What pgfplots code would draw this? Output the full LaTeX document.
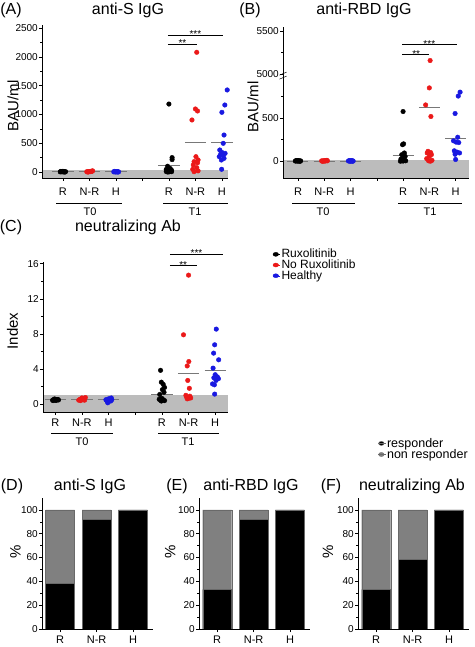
\documentclass[border=0pt]{standalone}
\usepackage{fontspec}
\setmainfont{Liberation Sans}
\usepackage{pgfplots}
\pgfplotsset{compat=1.18}

\definecolor{band}{RGB}{188,188,188}
\definecolor{medgray}{RGB}{120,120,120}
\definecolor{rred}{RGB}{235,25,25}
\definecolor{hblue}{RGB}{25,25,225}
\definecolor{nonresp}{RGB}{128,128,128}
\definecolor{baredge}{RGB}{105,105,105}

\tikzset{
 sig/.style={line width=0.6pt},
 signode/.style={font=\fontsize{10}{10}\selectfont, anchor=base, inner sep=0pt, yshift=-2.5pt},
}
\pgfplotsset{
 common/.style={
  scale only axis, anchor=south west,
  axis x line*=bottom, axis y line*=left,
  axis on top,
  tick align=outside,
  major tick length=3pt, minor tick length=1.6pt,
  every tick/.style={black, line width=0.5pt},
  axis line style={line width=0.6pt},
  minor y tick num=1,
  clip=false,
  /pgf/number format/assume math mode=true,
  /pgf/number format/1000 sep={},
  tick label style={font=\fontsize{10}{12}\selectfont},
  yticklabel style={inner sep=1pt},
  xticklabel style={font=\fontsize{11}{12}\selectfont},
  ylabel style={font=\fontsize{15}{18}\selectfont, anchor=center},
 },
 scat/.style={common,
  xtick={1,...,7}, xticklabels={R,N-R,H,,R,N-R,H},
 },
 dots/.style={only marks, mark=*, mark size=2.3pt, color=#1},
 med/.style={medgray, line width=0.8pt, no marks, forget plot},
 bars/.style={common,
  width=111pt, height=131pt,
  xmin=0.5, xmax=3.55, ymin=0, ymax=110,
  ytick={0,20,...,100},
  xtick={1,2,3}, xticklabels={R,N-R,H},
  ybar stacked, bar width=29pt,
  ylabel={\%},
 },
 dotlegend/.style={
  legend cell align=left,
  legend image code/.code={\fill[##1] (2.5pt,0pt) ellipse (2.8pt and 2pt); \path (-0.5pt,0pt) -- (7pt,0pt);}},
}

\begin{document}
\begin{tikzpicture}[x=1pt,y=1pt]
\useasboundingbox (0,0) rectangle (474,647);

% ================= Panel A =================
\begin{axis}[scat, at={(42pt,469pt)}, width=186pt, height=153pt,
  xmin=0.21, xmax=7.23, ymin=-104, ymax=2552,
  ytick={0,500,...,2500}, xticklabel style={yshift=-3pt},
  ylabel={BAU/ml}, ylabel style={at={(axis description cs:-0.156,0.47)}}]
\fill[band] (axis cs:0.21,-104) rectangle (axis cs:7.23,35);
\addplot[med] coordinates {(0.6,5) (1.4,5)};
\addplot[med] coordinates {(1.6,5) (2.4,5)};
\addplot[med] coordinates {(2.6,5) (3.4,5)};
\addplot[med] coordinates {(4.6,115) (5.4,115)};
\addplot[med] coordinates {(5.6,515) (6.4,515)};
\addplot[med] coordinates {(6.6,515) (7.4,515)};
\addplot[dots=black] coordinates {
 (0.9,2) (0.95,5) (1.0,8) (1.05,3) (1.1,6) (0.92,10) (1.08,0) (1.0,12) (0.97,4) (1.03,1)
 (5.0,1180) (5.12,250) (5.12,215) (4.95,100) (5.05,60) (4.9,45) (5.1,30) (4.95,20) (5.05,12) (4.9,8) (5.1,5) (5.0,2) (4.95,0)};
\addplot[dots=rred] coordinates {
 (1.9,5) (1.95,2) (2.0,8) (2.05,12) (2.1,15) (2.12,20) (1.97,3) (2.03,6) (2.08,10) (1.93,1)
 (6.05,2078) (6.0,1094) (6.08,1059) (5.87,903) (6.02,266) (6.1,210) (5.95,180) (6.08,160) (5.92,122) (6.05,75) (5.9,47) (6.1,20) (5.95,6)};
\addplot[dots=hblue] coordinates {
 (2.92,3) (2.96,5) (3.0,2) (3.04,8) (3.08,4) (2.98,1) (3.02,6) (3.06,0) (2.94,10) (3.1,2)
 (7.2,1424) (7.11,1163) (7.0,1036) (7.08,642) (7.05,498) (6.92,382) (7.0,340) (7.12,324) (6.95,307) (7.05,290) (6.9,266) (7.08,237) (6.98,208) (6.99,47)};
\draw[sig] (axis cs:4.96,2378) -- (axis cs:7.04,2378);
\node[signode] at (axis cs:6.0,2378) {***};
\draw[sig] (axis cs:4.96,2222) -- (axis cs:6.06,2222);
\node[signode] at (axis cs:5.51,2222) {**};
\end{axis}

% ================= Panel B =================
\begin{axis}[scat, at={(283pt,469pt)}, width=186pt, height=151pt,
  xmin=0.43, xmax=7.51, ymin=-193, ymax=1545,
  ytick={0,500,1000,1500}, yticklabels={0,500,5000,5500}, xticklabel style={yshift=-3pt},
  ylabel={BAU/ml}, ylabel style={at={(axis description cs:-0.161,0.47)}}]
\fill[band] (axis cs:0.43,-193) rectangle (axis cs:7.51,12);
\addplot[med] coordinates {(0.6,3) (1.4,3)};
\addplot[med] coordinates {(1.6,3) (2.4,3)};
\addplot[med] coordinates {(2.6,3) (3.4,3)};
\addplot[med] coordinates {(4.6,68) (5.4,68)};
\addplot[med] coordinates {(5.6,625) (6.4,625)};
\addplot[med] coordinates {(6.6,258) (7.4,258)};
\addplot[dots=black] coordinates {
 (0.9,2) (0.95,5) (1.0,3) (1.05,1) (1.1,4) (0.92,6) (1.08,0) (1.0,8) (0.97,2) (1.03,5)
 (5.0,572) (5.02,200) (4.98,190) (5.05,95) (4.95,75) (5.08,55) (5.0,40) (4.92,25) (5.05,15) (4.95,8) (5.1,5) (5.0,2) (4.9,0)};
\addplot[dots=rred] coordinates {
 (1.9,4) (1.95,2) (2.0,6) (2.05,8) (2.1,10) (2.12,5) (1.97,3) (2.03,1) (2.08,7) (1.93,0)
 (6.03,1159) (6.0,844) (5.86,648) (6.06,515) (5.95,114) (6.05,100) (5.92,95) (6.08,76) (6.0,55) (5.9,30) (6.1,11) (5.97,5) (6.04,0)};
\addplot[dots=hblue] coordinates {
 (2.92,3) (2.96,5) (3.0,2) (3.04,6) (3.08,4) (2.98,1) (3.02,5) (3.06,0) (2.94,4) (3.1,2)
 (7.17,795) (7.1,750) (6.98,549) (7.08,276) (6.92,235) (7.02,220) (7.12,215) (6.95,120) (7.05,105) (7.15,95) (6.98,80) (7.0,20)};
\draw[sig] (axis cs:4.96,1341) -- (axis cs:7.06,1341);
\node[signode] at (axis cs:6.0,1341) {***};
\draw[sig] (axis cs:4.96,1227) -- (axis cs:5.99,1227);
\node[signode] at (axis cs:5.5,1227) {**};
% axis break mark
\fill[white] (axis cs:0.43,985) ++(-4pt,-2pt) rectangle ++(8pt,4pt);
\draw[line width=0.5pt] (axis cs:0.43,985) ++(-3.5pt,-3.5pt) -- ++(7pt,3pt);
\draw[line width=0.5pt] (axis cs:0.43,985) ++(-3.5pt,0.5pt) -- ++(7pt,3pt);
\end{axis}

% ================= Panel C =================
\begin{axis}[scat, at={(43pt,235pt)}, width=185pt, height=150pt,
  xmin=0.54, xmax=7.48, ymin=-0.9, ymax=16.2,
  ytick={0,4,...,16},
  ylabel={Index}, ylabel style={at={(axis description cs:-0.165,0.54)}},
  legend style={draw=none, fill=none, at={(axis description cs:1.24,1.093)}, anchor=north west,
    font=\fontsize{12}{13}\selectfont, inner sep=0pt, row sep=-1.5pt,
    nodes={inner sep=1pt}},
  dotlegend]
\fill[band] (axis cs:0.54,-0.9) rectangle (axis cs:7.48,1.0);
\addplot[med] coordinates {(0.6,0.5) (1.4,0.5)};
\addplot[med] coordinates {(1.6,0.52) (2.4,0.52)};
\addplot[med] coordinates {(2.6,0.48) (3.4,0.48)};
\addplot[med] coordinates {(4.6,1.1) (5.4,1.1)};
\addplot[med] coordinates {(5.6,3.45) (6.4,3.45)};
\addplot[med] coordinates {(6.6,3.83) (7.4,3.83)};
\addplot[dots=black] coordinates {
 (0.9,0.45) (0.95,0.5) (1.0,0.55) (1.05,0.48) (1.1,0.52) (0.92,0.4) (1.08,0.5) (1.0,0.45) (0.97,0.58) (1.03,0.42) (1.12,0.47)
 (4.95,3.85) (4.98,2.5) (5.05,2.25) (5.1,1.9) (5.02,1.65) (5.08,1.35) (4.92,1.1) (5.0,0.65) (4.9,0.55) (5.05,0.5) (4.95,0.45) (5.1,0.4) (4.98,0.35)};
\addlegendentry{Ruxolitinib}
\addplot[dots=rred] coordinates {
 (1.88,0.45) (1.93,0.55) (1.98,0.5) (2.03,0.65) (2.08,0.6) (2.13,0.75) (1.95,0.4) (2.05,0.5) (2.1,0.45) (2.0,0.7)
 (6.0,14.7) (5.81,7.9) (6.01,4.85) (5.95,4.35) (5.97,2.7) (6.03,1.8) (5.9,1.0) (6.05,0.9) (5.93,0.8) (6.08,0.7) (6.0,0.65) (5.95,0.6)};
\addlegendentry{No Ruxolitinib}
\addplot[dots=hblue] coordinates {
 (2.9,0.5) (2.95,0.3) (3.0,0.6) (3.05,0.4) (3.1,0.7) (2.97,0.15) (3.03,0.55) (3.08,0.35) (2.93,0.45) (3.12,0.5)
 (7.04,8.55) (6.98,6.76) (6.94,5.81) (7.13,5.05) (6.92,4.1) (7.0,3.35) (7.08,3.1) (6.95,3.0) (7.12,2.9) (7.03,2.7) (6.9,2.3) (6.97,2.2) (6.98,1.14)};
\addlegendentry{Healthy}
\draw[sig] (axis cs:5.3,17.1) -- (axis cs:7.28,17.1);
\node[signode] at (axis cs:6.3,17.1) {***};
\draw[sig] (axis cs:5.3,15.8) -- (axis cs:6.3,15.8);
\node[signode] at (axis cs:5.8,15.8) {**};
\end{axis}

% ================= Panel D =================
\begin{axis}[bars, at={(42pt,18pt)},
  ylabel style={at={(axis description cs:-0.24,0.59)}}]
\addplot[fill=black, draw=baredge] coordinates {(1,38.5) (2,92.3) (3,100)};
\addplot[fill=nonresp, draw=baredge] coordinates {(1,61.5) (2,7.7) (3,0)};
\end{axis}

% ================= Panel E =================
\begin{axis}[bars, at={(199pt,18pt)},
  ylabel style={at={(axis description cs:-0.26,0.59)}}]
\addplot[fill=black, draw=baredge] coordinates {(1,33.3) (2,92.3) (3,100)};
\addplot[fill=nonresp, draw=baredge] coordinates {(1,66.7) (2,7.7) (3,0)};
\end{axis}

% ================= Panel F =================
\begin{axis}[bars, at={(358pt,18pt)},
  ylabel style={at={(axis description cs:-0.27,0.59)}},
  legend style={draw=none, fill=none, at={(axis description cs:0.18,1.466)}, anchor=north west,
    font=\fontsize{12.5}{13}\selectfont, inner sep=0pt, row sep=-1.5pt,
    nodes={inner sep=1pt}},
  dotlegend]
\addplot[fill=black, draw=baredge] coordinates {(1,33.3) (2,58.3) (3,100)};
\addlegendentry{responder}
\addplot[fill=nonresp, draw=baredge] coordinates {(1,66.7) (2,41.7) (3,0)};
\addlegendentry{non responder}
\end{axis}

% ================= group labels =================
\begin{scope}[line width=0.6pt, every node/.style={font=\fontsize{11}{12}\selectfont}]
\draw (56,444) -- (122,444); \node at (90,435) {T0};
\draw (163,444) -- (228,444); \node at (195,435) {T1};
\draw (292,444) -- (355,444); \node at (323,435) {T0};
\draw (398,444) -- (462,444); \node at (430,435) {T1};
\draw (51,214) -- (113,214); \node at (82,205) {T0};
\draw (158,214) -- (219,214); \node at (188,205) {T1};
\end{scope}

% ================= titles =================
\begin{scope}[every node/.style={font=\fontsize{16}{18}\selectfont, inner sep=0pt}]
\node at (11,637) {(A)}; \node at (128,637) {anti-S IgG};
\node at (250,637) {(B)}; \node at (364,637) {anti-RBD IgG};
\node at (11,420) {(C)}; \node at (128,420) {neutralizing Ab};
\node at (12,161) {(D)}; \node at (90,161) {anti-S IgG};
\node at (177,161) {(E)}; \node at (251,161) {anti-RBD IgG};
\node at (331,161) {(F)}; \node at (412,161) {neutralizing Ab};
\end{scope}
\end{tikzpicture}
\end{document}
